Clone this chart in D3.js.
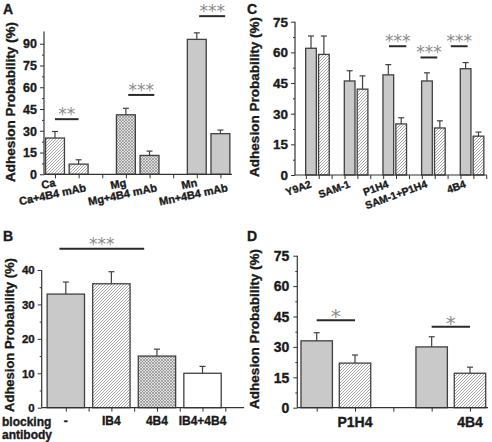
<!DOCTYPE html>
<html><head><meta charset="utf-8">
<script src="https://cdn.jsdelivr.net/npm/d3@7"></script>
<style>
body{margin:0;background:#fff;}
</style></head><body>
<svg id="c" width="492" height="442" font-family="'Liberation Sans', Arial, sans-serif"></svg>
<script>
// ---------- Panel A ----------
const catsA = ["Ca","Ca+4B4 mAb","Mg","Mg+4B4 mAb","Mn","Mn+4B4 mAb"];
const posA = [1,2,4,5,7,8];
const valsA = [25,7,41,13,93,28];
const errsA = [4.5,3,4.5,3,4.5,2.5];
const fillsA = ["hatch","hatch","cross","cross","grey","grey"];
const yTicksA = [0,15,30,45,60,75,90];
const sigA = [{x1:1,x2:2,y:38,t:"**"},{x1:4.1,x2:5.2,y:54.7,t:"***"},{x1:7.1,x2:8.2,y:109,t:"***"}];

// ---------- Panel B ----------
const catsB = ["-","IB4","4B4","IB4+4B4"];
const posB = [1,2,3,4];
const valsB = [33,36,15,10];
const errsB = [3.5,3.5,2,2];
const fillsB = ["grey","hatch","cross","white"];
const yTicksB = [0,10,20,30,40];
const sigB = [{x1:0.86,x2:2.72,y:46.2,t:"***"}];

// ---------- Panel C ----------
const catsC = ["Y9A2","SAM-1","P1H4","SAM-1+P1H4","4B4"];
const greyC = [62,46,49,46,52];
const greyErrC = [6,5,5,4,3];
const hatchC = [59,42,25,23,19];
const hatchErrC = [9,6.5,3,3.5,2];
const yTicksC = [0,15,30,45,60,75];
const sigC = [{x1:7.05,x2:8.4,y:63,t:"***"},{x1:9.5,x2:10.8,y:57.5,t:"***"},{x1:11.85,x2:13.15,y:63,t:"***"}];

// ---------- Panel D ----------
const catsD = ["P1H4","4B4"];
const greyD = [33,30];
const greyErrD = [4,5];
const hatchD = [22,17];
const hatchErrD = [4,3];
const yTicksD = [0,15,30,45,60,75];
const sigD = [{x1:1,x2:2,y:43.1,t:"*"},{x1:4,x2:5,y:40,t:"*"}];

const svg = d3.select("#c");
const defs = svg.append("defs");
const ph = defs.append("pattern").attr("id","hatch").attr("patternUnits","userSpaceOnUse").attr("width",3).attr("height",3);
ph.append("rect").attr("width",3).attr("height",3).attr("fill","#fff");
ph.append("path").attr("d","M-1,1 L1,-1 M0,3 L3,0 M2,4 L4,2").attr("stroke","#8f8f8f").attr("stroke-width",0.8);
const pc = defs.append("pattern").attr("id","cross").attr("patternUnits","userSpaceOnUse").attr("width",3).attr("height",3);
pc.append("rect").attr("width",3).attr("height",3).attr("fill","#e2e2e2");
pc.append("path").attr("d","M0,0 L3,3 M3,0 L0,3").attr("stroke","#7a7a7a").attr("stroke-width",0.6);
const fillMap = {grey:"#c9c9c9", hatch:"url(#hatch)", cross:"url(#cross)", white:"#ffffff"};

function bold(sel, size){
  return sel.attr("font-family","'Liberation Sans', Arial, sans-serif")
    .attr("font-weight","bold").style("font-weight","bold").style("font-size",size+"px")
    .attr("fill","#1a1a1a").attr("stroke","#1a1a1a").attr("stroke-width",0.35);
}

function panel(cfg){
  const g = svg.append("g");
  const x = d3.scaleLinear().domain(cfg.xd).range(cfg.xr);
  const y = d3.scaleLinear().domain(cfg.yd).range(cfg.yr);
  const bw = cfg.bw;
  const bars = g.selectAll("g.bar").data(cfg.bars).join("g");
  bars.append("line")
    .attr("x1",d=>x(d.pos)).attr("x2",d=>x(d.pos))
    .attr("y1",d=>y(d.v)).attr("y2",d=>y(d.v+d.e))
    .attr("stroke","#404040").attr("stroke-width",1.2);
  bars.append("line")
    .attr("x1",d=>x(d.pos)-cfg.cap).attr("x2",d=>x(d.pos)+cfg.cap)
    .attr("y1",d=>y(d.v+d.e)).attr("y2",d=>y(d.v+d.e))
    .attr("stroke","#404040").attr("stroke-width",1.2);
  bars.append("rect")
    .attr("x",d=>x(d.pos-bw/2)).attr("width",d=>x(d.pos+bw/2)-x(d.pos-bw/2))
    .attr("y",d=>y(d.v)).attr("height",d=>y(0)-y(d.v))
    .attr("fill",d=>fillMap[d.fill]).attr("stroke","#404040").attr("stroke-width",1.3);

  // y axis
  const ya = g.append("g").attr("transform",`translate(${cfg.xr[0]},0)`)
    .call(d3.axisLeft(y).tickValues(cfg.yticks).tickSize(4).tickPadding(cfg.tpad||3).tickSizeOuter(0));
  ya.select(".domain").remove();
  bold(ya.selectAll("text"), cfg.tfs).attr("dy","0.34em");
  ya.selectAll("line").attr("stroke","#333");
  const minors = [];
  for(let i=0;i<cfg.yticks.length-1;i++) minors.push((cfg.yticks[i]+cfg.yticks[i+1])/2);
  const ym = g.append("g").attr("transform",`translate(${cfg.xr[0]},0)`)
    .call(d3.axisLeft(y).tickValues(minors).tickSize(2).tickFormat(""));
  ym.select(".domain").remove();
  ym.selectAll("line").attr("stroke","#333");
  g.append("line").attr("x1",cfg.xr[0]).attr("x2",cfg.xr[0]).attr("y1",y(0)).attr("y2",y(cfg.yd[1]))
    .attr("stroke","#333").attr("stroke-width",1.2);
  // x axis
  const xa = g.append("g").attr("transform",`translate(0,${y(0)})`)
    .call(d3.axisBottom(x).tickValues(cfg.xticks).tickSize(4).tickFormat("").tickSizeOuter(0));
  xa.select(".domain").remove();
  xa.selectAll("line").attr("stroke","#333");
  g.append("line").attr("x1",cfg.xr[0]).attr("x2",cfg.xr[1]).attr("y1",y(0)).attr("y2",y(0))
    .attr("stroke","#333").attr("stroke-width",1.2);

  // significance
  cfg.sig.forEach(s=>{
    g.append("line").attr("x1",x(s.x1)).attr("x2",x(s.x2)).attr("y1",y(s.y)).attr("y2",y(s.y))
      .attr("stroke","#2a2a2a").attr("stroke-width",2);
    g.append("text").attr("x",(x(s.x1)+x(s.x2))/2).attr("y",y(s.y)+cfg.sdy)
      .attr("text-anchor","middle").style("font-size",cfg.sfs+"px")
      .attr("font-family","'DejaVu Sans', sans-serif")
      .attr("fill","#8c8c8c").text(s.t);
  });

  // y title
  bold(g.append("text").attr("transform",`translate(${cfg.tx},${cfg.ty}) rotate(-90)`)
    .attr("text-anchor","middle"), cfg.tts).text("Adhesion Probability (%)");
  // letter
  bold(g.append("text").attr("x",cfg.lx).attr("y",cfg.ly), 14).text(cfg.letter);
  return {g,x,y};
}

// Panel A
const pA = panel({
  xd:[0.535,8.49], xr:[44,232], yd:[0,98.5], yr:[174.3,31.4], bw:0.8, cap:3,
  bars: posA.map((p,i)=>({pos:p,v:valsA[i],e:errsA[i],fill:fillsA[i]})),
  yticks:yTicksA, xticks:[1,2,3,4,5,6,7,8], tfs:12.5, tpad:3,
  sig:sigA, sdy:1, sfs:17, tx:14.5, ty:102, tts:13.5, letter:"A", lx:3, ly:14
});
bold(pA.g.selectAll("text.xl").data(catsA).join("text").attr("class","xl")
  .attr("transform",(d,i)=>`translate(${pA.x(posA[i])+(i%2?8:1)},${i%2?191:186}) rotate(-12)`)
  .attr("text-anchor","end"), 11).text(d=>d);

// Panel B
const pB = panel({
  xd:[0.471,4.91], xr:[41.7,244], yd:[0,40], yr:[407.7,270], bw:0.82, cap:3,
  bars: posB.map((p,i)=>({pos:p,v:valsB[i],e:errsB[i],fill:fillsB[i]})),
  yticks:yTicksB, xticks:[1,1.5,2,2.5,3,3.5,4,4.5], tfs:11.5, tpad:3,
  sig:sigB, sdy:1, sfs:17, tx:13.5, ty:335, tts:13, letter:"B", lx:3, ly:241
});
bold(pB.g.selectAll("text.xl").data(catsB).join("text").attr("class","xl")
  .attr("x",(d,i)=>pB.x(posB[i])).attr("y",425).attr("text-anchor","middle"), 12).text(d=>d);
bold(pB.g.append("text").attr("x",2).attr("y",426), 12).text("blocking");
bold(pB.g.append("text").attr("x",2).attr("y",439), 12).text("antibody");

// Panel C
const gpos = [1,4,7,10,13];
const barsC = [];
gpos.forEach((p,i)=>{
  barsC.push({pos:p,v:greyC[i],e:greyErrC[i],fill:"grey"});
  barsC.push({pos:p+1,v:hatchC[i],e:hatchErrC[i],fill:"hatch"});
});
const pC = panel({
  xd:[-0.242,14.66], xr:[295,487], yd:[0,75], yr:[175,21.7], bw:0.83, cap:3,
  bars: barsC, yticks:yTicksC, xticks:d3.range(0.6,14.7,1), tfs:13.5, tpad:3,
  sig:sigC, sdy:1, sfs:17, tx:259, ty:97, tts:13.5, letter:"C", lx:247, ly:14
});
bold(pC.g.selectAll("text.xl").data(catsC).join("text").attr("class","xl")
  .attr("transform",(d,i)=>`translate(${pC.x(gpos[i])+1},${187}) rotate(-20)`)
  .attr("text-anchor","end"), 10.5).text(d=>d);

// Panel D
const gposD = [1,4];
const barsD = [];
gposD.forEach((p,i)=>{
  barsD.push({pos:p,v:greyD[i],e:greyErrD[i],fill:"grey"});
  barsD.push({pos:p+1,v:hatchD[i],e:hatchErrD[i],fill:"hatch"});
});
const pD = panel({
  xd:[0.494,5.47], xr:[297.3,488], yd:[0,75], yr:[407.7,255.7], bw:0.82, cap:3,
  bars: barsD, yticks:yTicksD, xticks:[1,2,3,4,5], tfs:14, tpad:4,
  sig:sigD, sdy:3, sfs:20, tx:259, ty:329, tts:13.5, letter:"D", lx:247, ly:241
});
bold(pD.g.selectAll("text.xl").data(catsD).join("text").attr("class","xl")
  .attr("x",(d,i)=>pD.x(gposD[i]+1)).attr("y",427).attr("text-anchor","middle"), 14).text(d=>d);
</script>
</body></html>
